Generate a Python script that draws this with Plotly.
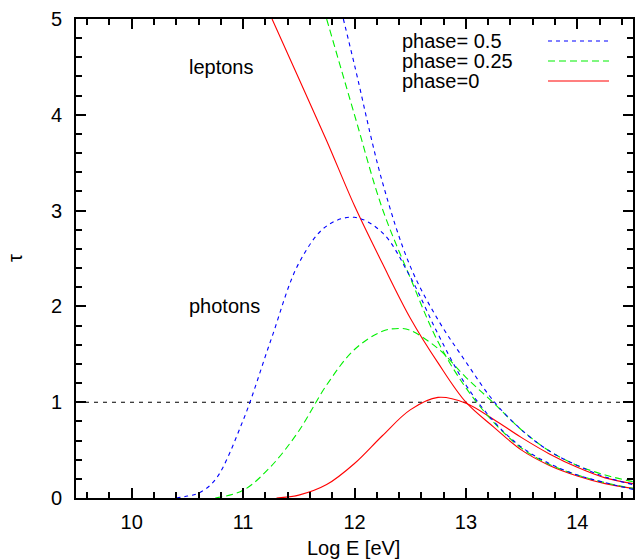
import plotly.graph_objects as go

# ---- optical depth tau versus log10 energy, for three orbital phases ----
# phase = 0 (red, solid)
lep_x_p0 = [11.26, 11.5, 11.75, 12.0, 12.25, 12.5, 12.75, 13.0, 13.25, 13.5, 13.75, 14.0, 14.25, 14.5]
lep_t_p0 = [5.0, 4.38, 3.73, 3.05, 2.45, 1.88, 1.41, 1.00, 0.74, 0.50, 0.34, 0.23, 0.15, 0.10]
pho_x_p0 = [11.3, 11.5, 11.75, 12.0, 12.25, 12.5, 12.75, 13.0, 13.25, 13.5, 13.75, 14.0, 14.25, 14.5]
pho_t_p0 = [0.0, 0.03, 0.14, 0.36, 0.65, 0.92, 1.05, 0.99, 0.82, 0.63, 0.46, 0.32, 0.21, 0.15]

# phase = 0.25 (green, dashed)
lep_x_p25 = [11.75, 12.0, 12.25, 12.5, 12.75, 13.0, 13.25, 13.5, 13.75, 14.0, 14.25, 14.5]
lep_t_p25 = [5.0, 4.0, 3.02, 2.30, 1.63, 1.15, 0.79, 0.52, 0.35, 0.24, 0.16, 0.10]
pho_x_p25 = [10.75, 11.0, 11.25, 11.5, 11.75, 12.0, 12.25, 12.4, 12.5, 12.75, 13.0, 13.25, 13.5, 13.75, 14.0, 14.25, 14.5]
pho_t_p25 = [0.0, 0.08, 0.33, 0.70, 1.18, 1.55, 1.74, 1.77, 1.75, 1.56, 1.26, 0.99, 0.71, 0.49, 0.34, 0.24, 0.17]

# phase = 0.5 (blue, dotted)
lep_x_p5 = [11.9, 12.0, 12.25, 12.5, 12.75, 13.0, 13.25, 13.5, 13.75, 14.0, 14.25, 14.5]
lep_t_p5 = [5.0, 4.52, 3.30, 2.42, 1.86, 1.42, 1.01, 0.71, 0.49, 0.34, 0.22, 0.14]
pho_x_p5 = [10.4, 10.5, 10.6, 10.75, 11.0, 11.25, 11.5, 11.75, 12.0, 12.25, 12.5, 12.75, 13.0, 13.25, 13.5, 13.75, 14.0, 14.25, 14.5]
pho_t_p5 = [0.0, 0.02, 0.05, 0.19, 0.81, 1.65, 2.45, 2.84, 2.93, 2.77, 2.31, 1.71, 1.18, 0.80, 0.53, 0.36, 0.24, 0.16, 0.09]

# tau = 1 reference level
unit_x = [9.5, 14.5]
unit_t = [1, 1]

x_ticks = [10, 11, 12, 13, 14]
y_ticks = [0, 1, 2, 3, 4, 5]

legend_labels = ["phase= 0.5", "phase= 0.25", "phase=0"]

RED, GREEN, BLUE = "#ff0000", "#00f000", "#0000ff"
BLUE_DASH = "4px,4px"
GREEN_DASH = "7px,4px"
FONT = "Liberation Sans, Arial, sans-serif"

fig = go.Figure()

def curve(x, y, color, dash):
    fig.add_trace(go.Scatter(
        x=x, y=y, mode="lines", showlegend=False, hoverinfo="skip",
        line=dict(color=color, width=1.1, dash=dash, shape="spline", smoothing=1.0),
    ))

curve(unit_x, unit_t, "#000000", "4px,5px")
curve(pho_x_p0, pho_t_p0, RED, "solid")
curve(lep_x_p0, lep_t_p0, RED, "solid")
curve(pho_x_p25, pho_t_p25, GREEN, GREEN_DASH)
curve(lep_x_p25, lep_t_p25, GREEN, GREEN_DASH)
curve(pho_x_p5, pho_t_p5, BLUE, BLUE_DASH)
curve(lep_x_p5, lep_t_p5, BLUE, BLUE_DASH)

axis_common = dict(
    showgrid=False, zeroline=False, showline=True, linecolor="black", linewidth=2,
    mirror="allticks", ticks="inside", ticklen=10, tickwidth=1.6, tickcolor="black",
    tickfont=dict(family=FONT, size=20, color="black"),
)
fig.update_xaxes(
    range=[9.5, 14.5], tickvals=x_ticks, ticktext=[str(v) for v in x_ticks],
    minor=dict(dtick=0.2, tick0=9.6, ticks="inside", ticklen=6, tickwidth=1.6, tickcolor="black", showgrid=False),
    ticklabelstandoff=5, **axis_common,
)
fig.update_yaxes(
    range=[0, 5], tickvals=y_ticks, ticktext=[str(v) for v in y_ticks],
    minor=dict(dtick=0.2, tick0=0, ticks="inside", ticklen=6, tickwidth=1.6, tickcolor="black", showgrid=False),
    ticklabelstandoff=8, **axis_common,
)

# text labels in the plot
notes = [("leptons", 10.5, 4.5), ("photons", 10.5, 2.0)]
for txt, xv, yv in notes:
    fig.add_annotation(x=xv, y=yv, text=txt, showarrow=False, xanchor="left",
                       font=dict(family=FONT, size=20, color="black"))

# key: text on the left, line sample on the right
key_colors = [BLUE, GREEN, RED]
key_dash = [BLUE_DASH, GREEN_DASH, "solid"]
for i, (lab, col, dsh) in enumerate(zip(legend_labels, key_colors, key_dash)):
    ypx = 41 + 20 * i
    yp = (498 - ypx) / 479
    fig.add_annotation(xref="paper", yref="paper", x=(400 - 76) / 557, y=yp, text=lab,
                       showarrow=False, xanchor="left", yanchor="middle",
                       font=dict(family=FONT, size=20, color="black"))
    fig.add_shape(type="line", xref="paper", yref="paper",
                  x0=(548 - 76) / 557, x1=(609 - 76) / 557, y0=yp, y1=yp,
                  line=dict(color=col, width=1.1, dash=dsh))

# axis titles
fig.add_annotation(xref="paper", yref="paper", x=0.498, y=(498 - 548) / 479, text="Log E [eV]",
                   showarrow=False, xanchor="center", yanchor="middle",
                   font=dict(family=FONT, size=20, color="black"))
fig.add_annotation(xref="paper", yref="paper", x=(15 - 76) / 557, y=0.501, text="τ",
                   showarrow=False, xanchor="center", yanchor="middle", textangle=-90,
                   font=dict(family=FONT, size=20, color="black"))

fig.update_layout(
    width=638, height=560, margin=dict(l=76, r=5, t=19, b=62, autoexpand=False),
    paper_bgcolor="white", plot_bgcolor="white",
)

fig.write_html("out.html")
